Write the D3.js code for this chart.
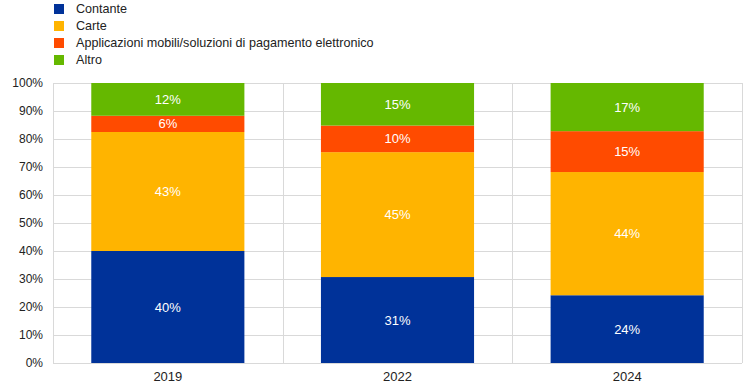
<!DOCTYPE html>
<html><head><meta charset="utf-8">
<script src="https://cdn.jsdelivr.net/npm/d3@7"></script>
<style>body{margin:0;background:#fff}svg{display:block;font-family:"Liberation Sans",Arial,sans-serif}</style>
</head><body>
<svg id="c" width="745" height="391"></svg>
<script>
const years = ["2019", "2022", "2024"];
const seriesNames = ["Contante", "Carte", "Applicazioni mobili/soluzioni di pagamento elettronico", "Altro"];
const colors = ["#003299", "#FFB400", "#FF4B00", "#65B800"];
const contante = [40.0, 30.7, 24.2];
const carte = [42.5, 44.6, 44.0];
const mobile = [5.8, 9.5, 14.6];
const altro = [11.7, 15.2, 17.2];
const yTicks = [0, 10, 20, 30, 40, 50, 60, 70, 80, 90, 100];

const seriesVals = [contante, carte, mobile, altro];
const rows = years.map((y, i) => {
  const r = {year: y};
  seriesNames.forEach((s, k) => r[s] = seriesVals[k][i]);
  return r;
});
const stacked = d3.stack().keys(seriesNames)(rows);

const svg = d3.select("#c");
const L = 53, R = 742, T = 83, B = 363;
const x = d3.scaleBand().domain(years).range([L, R]).paddingInner(1/3).paddingOuter(1/6);
const xg = d3.scaleBand().domain(years).range([L, R]);
const y = d3.scaleLinear().domain([0, 100]).range([B, T]);
const grid = "#d9d9d9";

// horizontal gridlines
svg.append("g").selectAll("line").data(yTicks).join("line")
  .attr("x1", L).attr("x2", R).attr("y1", d => Math.round(y(d)) + 0.5).attr("y2", d => Math.round(y(d)) + 0.5)
  .attr("stroke", grid).attr("stroke-width", 1);
// vertical gridlines
const vx = years.map(d => xg(d)).concat([R]);
svg.append("g").selectAll("line").data(vx).join("line")
  .attr("x1", d => Math.round(d) + 0.5).attr("x2", d => Math.round(d) + 0.5).attr("y1", T).attr("y2", B)
  .attr("stroke", grid).attr("stroke-width", 1);

// bars
const g = svg.append("g");
stacked.forEach((s, k) => {
  g.append("g").attr("fill", colors[k]).selectAll("rect").data(s).join("rect")
    .attr("x", d => x(d.data.year)).attr("width", x.bandwidth())
    .attr("y", d => y(d[1])).attr("height", d => y(d[0]) - y(d[1]));
  g.append("g").selectAll("text").data(s).join("text")
    .attr("x", d => x(d.data.year) + x.bandwidth() / 2)
    .attr("y", d => (y(d[0]) + y(d[1])) / 2)
    .attr("dy", "0.35em").attr("text-anchor", "middle")
    .attr("fill", "#fff").attr("font-size", 13)
    .text(d => Math.round(d[1] - d[0]) + "%");
});

// y axis
const yAxis = d3.axisLeft(y).tickValues(yTicks).tickFormat(d => d + "%").tickSize(0).tickPadding(10);
const ya = svg.append("g").attr("transform", `translate(${L},0)`).call(yAxis);
ya.select(".domain").remove();
ya.selectAll("text").attr("font-size", 12).attr("fill", "#222").attr("font-family", "Liberation Sans, Arial, sans-serif");

// x axis
const xAxis = d3.axisBottom(xg).tickSize(0).tickPadding(9);
const xa = svg.append("g").attr("transform", `translate(0,${B})`).call(xAxis);
xa.select(".domain").remove();
xa.selectAll("text").attr("font-size", 13).attr("fill", "#222").attr("font-family", "Liberation Sans, Arial, sans-serif");

// legend
const lg = svg.append("g");
seriesNames.forEach((s, k) => {
  const cy = 9 + k * 17;
  lg.append("rect").attr("x", 54).attr("y", cy - 5).attr("width", 10).attr("height", 10).attr("fill", colors[k]);
  lg.append("text").attr("x", 76).attr("y", cy).attr("dy", "0.35em").attr("font-size", 12.6).attr("fill", "#222").text(s);
});
</script>
</body></html>
